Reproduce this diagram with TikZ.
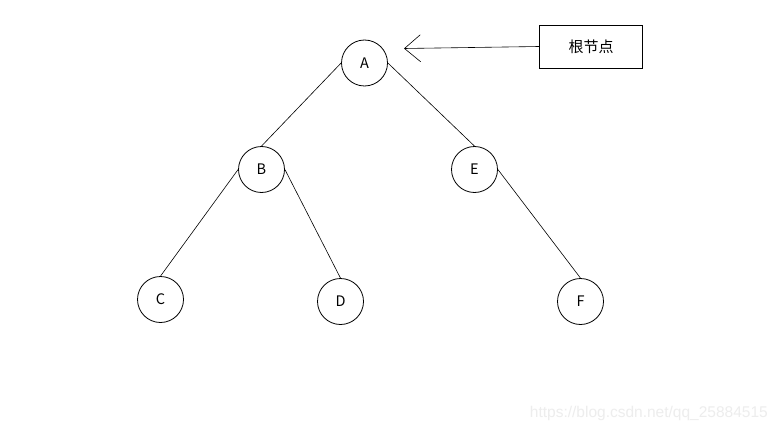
\documentclass[tikz,border=0pt]{standalone}
\usepackage{fontspec}
\setmainfont{Noto Sans CJK SC}
\newfontfamily\wmfont{Liberation Sans}
\usetikzlibrary{arrows.meta}
\begin{document}
\begin{tikzpicture}[x=1pt,y=-1pt,
  treenode/.style={draw,circle,minimum size=46pt,inner sep=0pt,line width=0.8pt,font=\fontsize{14.5}{16}\selectfont},
  edge/.style={line width=0.6pt},
  labelbox/.style={draw,rectangle,minimum width=103pt,minimum height=43pt,line width=0.8pt,font=\fontsize{15}{17}\selectfont}]
\useasboundingbox[fill=white] (0,0) rectangle (778,433);
\node[treenode] (A) at (364.5,63) {A};
\node[treenode] (B) at (261.5,169.5) {B};
\node[treenode] (E) at (474.5,169.5) {E};
\node[treenode] (C) at (160.5,299.5) {C};
\node[treenode] (D) at (340.5,301.5) {D};
\node[treenode] (F) at (580.5,301.5) {F};
\node[labelbox] (root) at (591,46.5) {根节点};
\coordinate (tip) at (404,48.5);
\draw[edge] (A.west) -- (B.north);
\draw[edge] (A.east) -- (E.north);
\draw[edge] (B.west) -- (C.north);
\draw[edge] (B.east) -- (D.north);
\draw[edge] (E.east) -- (F.north);
\draw[edge,-{Straight Barb[length=16pt,width=27pt,line width=0.6pt]}] (root.west) -- (tip);
\node[anchor=east,text=black!7,font=\wmfont\fontsize{15.5}{17}\selectfont,inner sep=0pt] (wm) at (768,413) {https://blog.csdn.net/qq\_25884515};
\end{tikzpicture}
\end{document}
